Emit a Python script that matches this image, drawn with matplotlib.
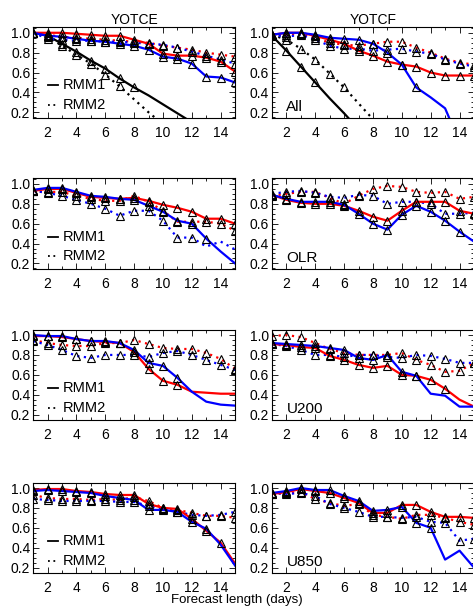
import numpy as np
import matplotlib
matplotlib.use("Agg")
import matplotlib.pyplot as plt
from matplotlib.ticker import MultipleLocator

plt.rcParams["font.family"] = ["Liberation Sans", "DejaVu Sans"]

days = np.arange(1, 16)

# panel order: row by row, left (YOTCE) then right (YOTCF)
panel_labels = ["All", "All", "OLR", "OLR", "U200", "U200", "U850", "U850"]
col_titles = ["YOTCE", "YOTCF"]

# black curves (only in the "All" row)
all_black1 = {
    0: [1.0, 0.97, 0.89, 0.81, 0.72, 0.64, 0.54, 0.45, 0.37, 0.28, 0.19, 0.10, 0.02, -0.05, -0.12],
    1: [0.97, 0.82, 0.66, 0.50, 0.34, 0.19, 0.03, -0.1, -0.2, -0.3, -0.4, -0.5, -0.6, -0.7, -0.8],
}
all_black2 = {
    0: [1.0, 0.96, 0.87, 0.78, 0.69, 0.58, 0.46, 0.33, 0.20, 0.08, -0.05, -0.15, -0.25, -0.35, -0.45],
    1: [0.98, 0.93, 0.84, 0.73, 0.59, 0.45, 0.29, 0.13, -0.02, -0.15, -0.3, -0.4, -0.5, -0.6, -0.7],
}

red1 = [
    [1.0, 1.0, 1.0, 0.99, 0.98, 0.97, 0.97, 0.93, 0.89, 0.79, 0.77, 0.77, 0.75, 0.71, 0.61],
    [0.98, 1.0, 1.0, 0.97, 0.93, 0.89, 0.82, 0.77, 0.71, 0.68, 0.66, 0.60, 0.57, 0.57, 0.57],
    [0.93, 0.95, 0.95, 0.91, 0.87, 0.86, 0.85, 0.86, 0.83, 0.79, 0.76, 0.72, 0.65, 0.65, 0.60],
    [0.89, 0.84, 0.81, 0.80, 0.80, 0.78, 0.73, 0.67, 0.63, 0.73, 0.82, 0.82, 0.82, 0.73, 0.70],
    [0.99, 0.99, 0.98, 0.96, 0.94, 0.93, 0.92, 0.83, 0.66, 0.54, 0.50, 0.43, 0.42, 0.41, 0.41],
    [0.91, 0.90, 0.88, 0.87, 0.79, 0.75, 0.70, 0.67, 0.69, 0.60, 0.59, 0.55, 0.46, 0.35, 0.28],
    [0.98, 0.99, 0.99, 0.97, 0.96, 0.94, 0.93, 0.93, 0.84, 0.80, 0.79, 0.69, 0.57, 0.45, 0.24],
    [0.94, 0.96, 0.99, 0.97, 0.95, 0.90, 0.85, 0.75, 0.75, 0.83, 0.83, 0.76, 0.71, 0.71, 0.70],
]
blue1 = [
    [1.0, 0.97, 0.96, 0.94, 0.92, 0.91, 0.89, 0.87, 0.83, 0.76, 0.74, 0.69, 0.56, 0.55, 0.50],
    [0.98, 1.0, 1.0, 0.98, 0.95, 0.94, 0.93, 0.89, 0.80, 0.68, 0.45, 0.35, 0.24, -0.1, -0.2],
    [0.94, 0.96, 0.96, 0.92, 0.88, 0.87, 0.85, 0.84, 0.78, 0.72, 0.63, 0.60, 0.45, 0.32, 0.20],
    [0.89, 0.85, 0.82, 0.82, 0.82, 0.79, 0.70, 0.60, 0.54, 0.69, 0.78, 0.72, 0.63, 0.52, 0.42],
    [1.0, 0.99, 0.99, 0.96, 0.94, 0.94, 0.92, 0.85, 0.72, 0.69, 0.57, 0.43, 0.33, 0.30, 0.29],
    [0.92, 0.91, 0.90, 0.89, 0.87, 0.85, 0.77, 0.75, 0.80, 0.63, 0.59, 0.41, 0.39, 0.28, 0.28],
    [0.97, 0.98, 0.97, 0.96, 0.95, 0.92, 0.90, 0.88, 0.78, 0.78, 0.76, 0.66, 0.59, 0.43, 0.22],
    [0.95, 0.97, 1.0, 0.98, 0.98, 0.92, 0.87, 0.77, 0.78, 0.81, 0.65, 0.60, 0.28, 0.37, 0.20],
]
red2 = [
    [1.0, 0.98, 0.96, 0.95, 0.94, 0.93, 0.92, 0.91, 0.90, 0.87, 0.85, 0.83, 0.80, 0.78, 0.76],
    [0.98, 0.98, 0.99, 0.95, 0.90, 0.88, 0.87, 0.89, 0.91, 0.91, 0.85, 0.80, 0.74, 0.70, 0.68],
    [0.93, 0.92, 0.92, 0.88, 0.85, 0.83, 0.83, 0.88, 0.82, 0.73, 0.62, 0.62, 0.62, 0.60, 0.53],
    [0.88, 0.90, 0.92, 0.92, 0.86, 0.80, 0.88, 0.95, 0.98, 0.97, 0.92, 0.91, 0.92, 0.85, 0.87],
    [0.95, 0.92, 0.90, 0.89, 0.89, 0.92, 0.92, 0.95, 0.91, 0.87, 0.86, 0.86, 0.82, 0.76, 0.66],
    [0.99, 1.0, 0.98, 0.92, 0.86, 0.82, 0.80, 0.80, 0.80, 0.82, 0.75, 0.70, 0.63, 0.64, 0.72],
    [0.93, 0.90, 0.89, 0.89, 0.88, 0.89, 0.88, 0.91, 0.87, 0.80, 0.78, 0.75, 0.72, 0.72, 0.70],
    [0.94, 0.95, 0.96, 0.89, 0.85, 0.82, 0.84, 0.73, 0.71, 0.69, 0.73, 0.73, 0.70, 0.66, 0.63],
]
blue2 = [
    [1.0, 0.94, 0.93, 0.92, 0.92, 0.91, 0.91, 0.90, 0.89, 0.88, 0.85, 0.81, 0.77, 0.73, 0.69],
    [0.98, 0.96, 0.98, 0.93, 0.87, 0.84, 0.84, 0.82, 0.83, 0.84, 0.81, 0.79, 0.73, 0.69, 0.66],
    [0.93, 0.91, 0.88, 0.84, 0.80, 0.75, 0.68, 0.73, 0.73, 0.63, 0.46, 0.46, 0.37, 0.42, 0.34],
    [0.90, 0.92, 0.93, 0.91, 0.87, 0.86, 0.89, 0.88, 0.80, 0.82, 0.82, 0.80, 0.70, 0.70, 0.71],
    [0.94, 0.90, 0.85, 0.79, 0.77, 0.80, 0.80, 0.80, 0.78, 0.82, 0.84, 0.80, 0.75, 0.70, 0.65],
    [0.91, 0.89, 0.85, 0.80, 0.80, 0.78, 0.80, 0.80, 0.78, 0.77, 0.80, 0.79, 0.76, 0.72, 0.72],
    [0.89, 0.88, 0.87, 0.87, 0.87, 0.87, 0.86, 0.86, 0.82, 0.79, 0.76, 0.73, 0.72, 0.73, 0.76],
    [0.95, 0.94, 0.95, 0.92, 0.84, 0.80, 0.76, 0.71, 0.71, 0.70, 0.71, 0.66, 0.65, 0.47, 0.49],
]

# triangles drawn where the correlation is above this
mark_level = 0.445

fig = plt.figure(figsize=(4.73, 6.07), dpi=100)

lefts = [0.070, 0.575]
width = 0.427
height = 0.149
bottoms = [0.806, 0.557, 0.308, 0.056]


def draw(ax, y, color, ls):
    y = np.array(y)
    ax.plot(days, y, color=color, ls=ls, lw=1.6, zorder=2)
    m = y >= mark_level
    ax.plot(days[m], y[m], ls="none", marker="^", ms=5.5, mfc="none",
            mec="black", mew=0.8, zorder=3)


for i in range(8):
    row, col = divmod(i, 2)
    ax = fig.add_axes([lefts[col], bottoms[row], width, height])

    if row == 0:
        draw(ax, all_black1[col], "black", "-")
        draw(ax, all_black2[col], "black", (0, (1, 2)))
    draw(ax, red2[i], "red", (0, (1, 2)))
    draw(ax, blue2[i], "blue", (0, (1, 2)))
    draw(ax, red1[i], "red", "-")
    draw(ax, blue1[i], "blue", "-")

    ax.set_xlim(1, 15)
    ax.set_ylim(0.145, 1.055)
    ax.xaxis.set_major_locator(MultipleLocator(2))
    ax.xaxis.set_minor_locator(MultipleLocator(1))
    ax.yaxis.set_minor_locator(MultipleLocator(0.05))
    ax.set_yticks([0.2, 0.4, 0.6, 0.8, 1.0])
    ax.set_yticklabels(["0.2", "0.4", "0.6", "0.8", "1.0"])
    ax.tick_params(which="both", direction="in", top=True, right=True,
                   labelsize=10, width=0.6)
    ax.tick_params(axis="x", pad=6)
    ax.tick_params(axis="y", pad=2)
    ax.tick_params(which="major", length=4)
    ax.tick_params(which="minor", length=2)
    for s in ax.spines.values():
        s.set_linewidth(0.8)

    if row == 0:
        ax.set_title(col_titles[col], fontsize=10, pad=2)

    if col == 0:
        ax.plot([2.05, 2.75], [0.47, 0.47], color="black", lw=1.3)
        ax.text(3.05, 0.47, "RMM1", fontsize=10.5, va="center")
        ax.plot([2.05, 2.75], [0.27, 0.27], color="black", lw=1.3, ls=(0, (1, 2)))
        ax.text(3.05, 0.27, "RMM2", fontsize=10.5, va="center")
    else:
        ax.text(2.0, 0.255, panel_labels[i], fontsize=11, va="center")

fig.text(0.5, 0.006, "Forecast length (days)", ha="center", fontsize=9.5)

fig.savefig("out.png", dpi=100)
